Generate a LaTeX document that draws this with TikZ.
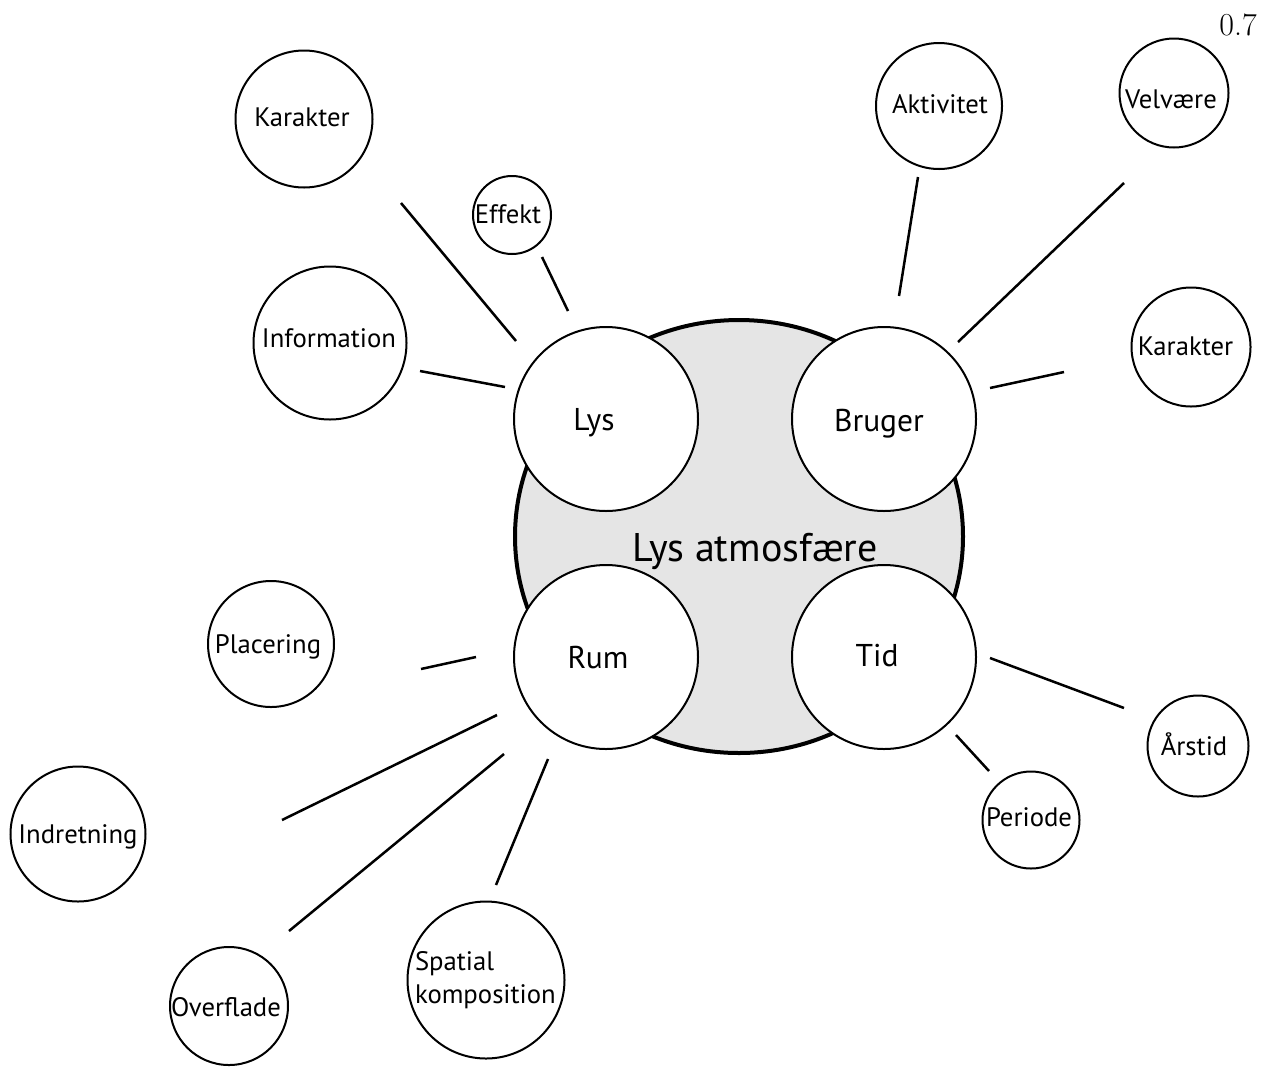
\documentclass[tikz,border=0pt]{standalone}
\usepackage{fontspec}
\newfontfamily\labelfont{PT Sans}
\usetikzlibrary{shapes.geometric}

% label text of zero width, shifted right by #1 and raised by #2 (pt)
\newcommand\lab[3]{\makebox[0pt]{\kern#1pt\raisebox{#2pt}{#3}\kern-#1pt}}

\begin{document}
\begin{tikzpicture}[x=1pt,y=-1pt,
  bubble/.style={circle,draw,line width=2pt,fill=white,inner sep=0pt,outer sep=0pt,
    minimum size=#1,font=\labelfont\fontsize{26.7}{32.5}\selectfont,
    text height=18.7pt,text depth=0pt},
  core/.style={circle,draw,line width=2pt,fill=white,inner sep=0pt,outer sep=0pt,
    minimum size=184pt,font=\labelfont\fontsize{31.5}{38}\selectfont,
    text height=22pt,text depth=0pt},
  hub/.style={ellipse,draw,line width=4pt,fill=black!10,inner sep=0pt,
    minimum width=448pt,minimum height=433pt,
    font=\labelfont\fontsize{40}{46}\selectfont,text height=28pt,text depth=0pt},
  link/.style={line width=2.5pt}]

\useasboundingbox (0,0) rectangle (1273,1066);

% scale note
\node[inner sep=0pt,font=\fontsize{32}{32}\selectfont,text height=20.6pt,text depth=0pt]
  (scale) at (1238,25) {0.7};

% central theme
\node[hub] (hub) at (739,536.5) {\lab{16}{-11}{Lys atmosfære}};

% four main aspects
\node[core] (lys) at (606,419) {\lab{-12}{0}{Lys}};
\node[core] (bru) at (884,419) {\lab{-5}{-1}{Bruger}};
\node[core] (rum) at (606,657) {\lab{-8}{0}{Rum}};
\node[core] (tid) at (884,657) {\lab{-7}{2}{Tid}};

% sub-aspects
\node[bubble=137pt] (kar1) at (304,119)  {\lab{-2}{2}{Karakter}};
\node[bubble=78pt]  (eff)  at (512,215)  {\lab{-4}{1}{Effekt}};
\node[bubble=153pt] (inf)  at (330,343)  {\lab{-1}{5}{Information}};
\node[bubble=126pt] (akt)  at (939,106)  {\lab{1}{2}{Aktivitet}};
\node[bubble=109pt] (vel)  at (1174,93)  {\lab{-3}{-6.5}{Velvære}};
\node[bubble=119pt] (kar2) at (1191,347) {\lab{-5.5}{1}{Karakter}};
\node[bubble=126pt] (pla)  at (271,644)  {\lab{-3}{0}{Placering}};
\node[bubble=135pt] (ind)  at (78,834)   {\lab{0}{0}{Indretning}};
\node[bubble=118pt] (ovf)  at (229,1006) {\lab{-3}{-1.5}{Overflade}};
\node[bubble=157pt] (spa)  at (486,980)
  {\makebox[0pt][l]{\kern-71pt\raisebox{18.5pt}{\begin{tabular}[t]{@{}l@{}}Spatial\\komposition\end{tabular}}}};
\node[bubble=101pt] (ars)  at (1198,746) {\lab{-4}{0}{Årstid}};
\node[bubble=97pt]  (per)  at (1031,820) {\lab{-2}{2.5}{Periode}};

% connectors (free-standing strokes between bubbles)
\draw[link] ([shift={(97,84)}]kar1.center)   -- ([shift={(-90,-78)}]lys.center);
\draw[link] ([shift={(30,42)}]eff.center)    -- ([shift={(-38,-108)}]lys.center);
\draw[link] ([shift={(90,28)}]inf.center)    -- ([shift={(-101,-32)}]lys.center);
\draw[link] ([shift={(-21,71)}]akt.center)   -- ([shift={(15,-123)}]bru.center);
\draw[link] ([shift={(-50,90)}]vel.center)   -- ([shift={(74,-77)}]bru.center);
\draw[link] ([shift={(-127,25)}]kar2.center) -- ([shift={(106,-31)}]bru.center);
\draw[link] ([shift={(150,25)}]pla.center)   -- ([shift={(-130,0)}]rum.center);
\draw[link] ([shift={(204,-14)}]ind.center)  -- ([shift={(-109,58)}]rum.center);
\draw[link] ([shift={(60,-75)}]ovf.center)   -- ([shift={(-102,97)}]rum.center);
\draw[link] ([shift={(10,-95)}]spa.center)   -- ([shift={(-58,102)}]rum.center);
\draw[link] ([shift={(-74,-38)}]ars.center)  -- ([shift={(106,1)}]tid.center);
\draw[link] ([shift={(-42,-49)}]per.center)  -- ([shift={(72,78)}]tid.center);

\end{tikzpicture}
\end{document}
